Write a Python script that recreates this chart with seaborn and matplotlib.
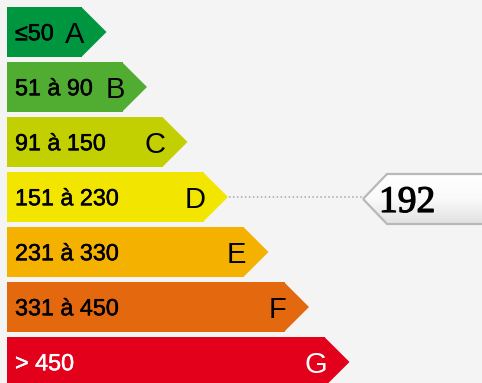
import numpy as np
import pandas as pd
import matplotlib
matplotlib.use("Agg")
import matplotlib.pyplot as plt
from matplotlib.patches import Polygon
from matplotlib.colors import LinearSegmentedColormap
import matplotlib.patheffects as pe
import seaborn as sns

# Energy classes, their consumption ranges (kWh/m².an) and label colours
classes = ["A", "B", "C", "D", "E", "F", "G"]
plages = ["≤50", "51 à 90", "91 à 150", "151 à 230", "231 à 330", "331 à 450", "> 450"]
bornes_sup = [50, 90, 150, 230, 330, 450]
couleurs = ["#009640", "#50ad32", "#c2cf00", "#f2e500", "#f4b100", "#e4680e", "#e2001a"]
couleurs_texte = ["black", "black", "black", "black", "black", "black", "white"]
consommation = 192

FOND = "#f4f4f4"
SANS = ["Liberation Sans", "DejaVu Sans"]

# Arrow geometry (pixels in x, category rows in y)
LONG_BASE, PAS, POINTE = 75, 40.5, 24.5
HAUT = 50 / 55

df = pd.DataFrame({
    "classe": classes,
    "longueur": [LONG_BASE + PAS * i for i in range(len(classes))],
})

fig = plt.figure(figsize=(4.82, 3.83), dpi=100, facecolor=FOND)
ax = fig.add_axes([0, 0, 1, 1])
ax.set_facecolor(FOND)

sns.barplot(data=df, y="classe", x="longueur", hue="classe", palette=couleurs,
            orient="h", width=HAUT, saturation=1, legend=False,
            linewidth=0, ax=ax)

# Pointed end of each class arrow
for i, p in enumerate(ax.patches[:len(classes)]):
    x0, y0, w, h = p.get_x(), p.get_y(), p.get_width(), p.get_height()
    ax.add_patch(Polygon([(x0 + w - 0.6, y0), (x0 + w + POINTE, y0 + h / 2),
                          (x0 + w - 0.6, y0 + h)], closed=True,
                         facecolor=couleurs[i], edgecolor="none", zorder=2))

# Range and class letter on each arrow
for i, (cl, pl) in enumerate(zip(classes, plages)):
    fin = df["longueur"][i]
    t = ax.text(8, i + 0.15, pl, ha="left", va="baseline", fontsize=16.8,
                color=couleurs_texte[i], family=SANS, zorder=3)
    t.set_path_effects([pe.withStroke(linewidth=0.35, foreground=couleurs_texte[i])])
    ax.text(fin + 2, i + 0.2, cl, ha="right", va="baseline", fontsize=21,
            color=couleurs_texte[i], family=SANS, zorder=3)

# Class of the building and its pointer
k = int(np.searchsorted(bornes_sup, consommation, side="left"))
fin_k = df["longueur"][k] + POINTE
x_pointe, x_coin, x_fin = 356, 380, 500
yc = k + 0.036
h2 = HAUT / 2

ax.plot([fin_k + 1, x_pointe], [k, k], linestyle=(0, (1, 1.6)),
        color="#a8a8a8", lw=1.1, zorder=1)

cadre = [(x_pointe, yc), (x_coin, yc - h2), (x_fin, yc - h2),
         (x_fin, yc + h2), (x_coin, yc + h2)]
fond_cadre = Polygon(cadre, closed=True, facecolor="none", edgecolor="none")
ax.add_patch(fond_cadre)
degrade = LinearSegmentedColormap.from_list("degrade", ["#ffffff", "#fafafa", "#e2e2e2"])
img = ax.imshow(np.linspace(0, 1, 64)[:, None], cmap=degrade, aspect="auto",
                extent=(x_pointe, x_fin, yc + h2, yc - h2), origin="upper",
                zorder=4)
img.set_clip_path(fond_cadre)
ax.add_patch(Polygon(cadre, closed=True, facecolor="none",
                     edgecolor="#b8b8b8", lw=1.6, zorder=5))
t = ax.text(372, yc + 0.236, str(consommation), ha="left", va="baseline",
            fontsize=27, family=["Liberation Serif", "DejaVu Serif"],
            color="black", zorder=6)
t.set_path_effects([pe.withStroke(linewidth=0.9, foreground="black")])

ax.set_xlim(-7, 475)
ax.set_ylim((383 - 32) / 55, -32 / 55)
ax.axis("off")

fig.savefig("out.png", dpi=100, facecolor=FOND)
